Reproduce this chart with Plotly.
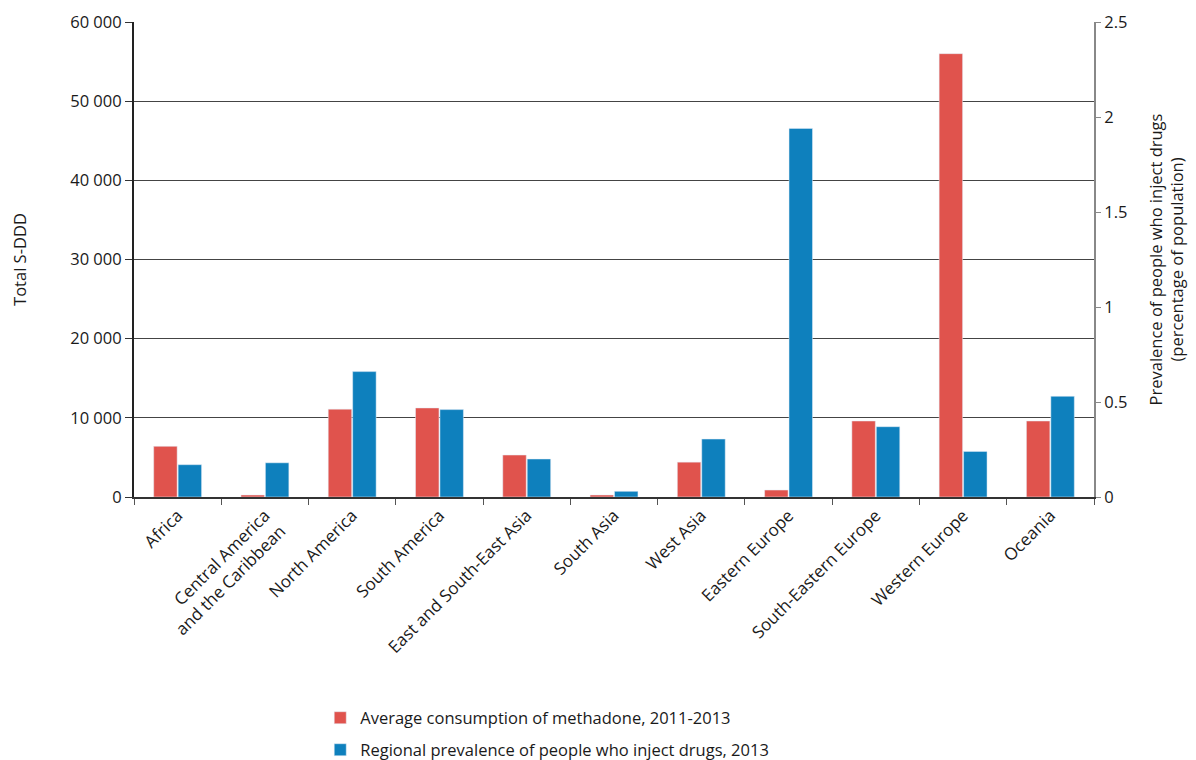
import plotly.graph_objects as go

regions = [
    "Africa", "Central America<br>and the Caribbean", "North America", "South America",
    "East and South-East Asia", "South Asia", "West Asia", "Eastern Europe",
    "South-Eastern Europe", "Western Europe", "Oceania",
]
methadone = [6400, 250, 11100, 11250, 5300, 250, 4400, 880, 9600, 56000, 9600]
pwid_prevalence = [0.17, 0.18, 0.66, 0.46, 0.20, 0.03, 0.305, 1.94, 0.37, 0.24, 0.53]

left_ticks = [0, 10000, 20000, 30000, 40000, 50000, 60000]
left_labels = ["0", "10 000", "20 000", "30 000", "40 000", "50 000", "60 000"]
right_ticks = [0, 0.5, 1, 1.5, 2, 2.5]
right_labels = ["0", "0.5", "1", "1.5", "2", "2.5"]

RED = "#E0534D"
BLUE = "#0E80BD"
FONT = "Open Sans"

# page body adds an 8px margin, so the figure is sized a bit smaller
W, H = 1188, 752

fig = go.Figure()
fig.add_trace(go.Bar(
    x=regions, y=methadone, name="Average consumption of methadone, 2011-2013",
    marker_color=RED, offsetgroup="a", yaxis="y", legend="legend",
))
fig.add_trace(go.Bar(
    x=regions, y=pwid_prevalence, name="Regional prevalence of people who inject drugs, 2013",
    marker_color=BLUE, offsetgroup="b", yaxis="y2", legend="legend2",
))

legend_style = dict(
    orientation="v", x=0.194, xanchor="left", yanchor="middle",
    yref="container", font=dict(size=16.5), bgcolor="rgba(0,0,0,0)",
)

fig.update_layout(
    width=W, height=H,
    margin=dict(l=126, r=102, t=14, b=263),
    plot_bgcolor="white", paper_bgcolor="white",
    font=dict(family=FONT, size=16.5, color="#1a1a1a"),
    barmode="group", bargap=0.44, bargroupgap=0.04,
    showlegend=True,
    legend=dict(y=1 - 710 / H, **legend_style),
    legend2=dict(y=1 - 742 / H, **legend_style),
    xaxis=dict(
        tickangle=-45, tickson="boundaries", ticks="outside", ticklen=6,
        tickcolor="#555", showline=True, linecolor="#333", linewidth=2,
        showgrid=False, tickfont=dict(size=17), automargin=False,
    ),
    yaxis=dict(
        range=[0, 60000], tickvals=left_ticks, ticktext=left_labels,
        ticks="outside", ticklen=7, tickcolor="#333",
        showgrid=True, gridcolor="#444", gridwidth=1.2,
        showline=True, linecolor="#222", linewidth=2, zeroline=False,
        automargin=False,
        title=dict(text="Total S-DDD", standoff=44, font=dict(size=16.5)),
    ),
    yaxis2=dict(
        range=[0, 2.5], tickvals=right_ticks, ticktext=right_labels,
        overlaying="y", side="right", ticks="outside", ticklen=5,
        tickcolor="#888", showgrid=False, showline=True, linecolor="#888",
        linewidth=2, zeroline=False, automargin=False,
        title=dict(text="Prevalence of people who inject drugs<br>(percentage of population)",
                   standoff=24, font=dict(size=16.5)),
    ),
)

fig.write_html("out.html")
